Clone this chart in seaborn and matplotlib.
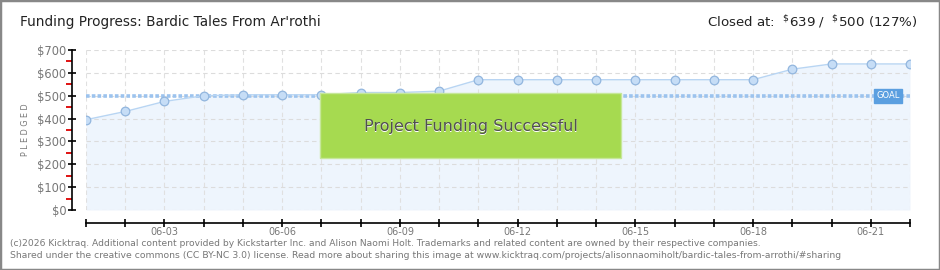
import matplotlib
matplotlib.use("Agg")
import matplotlib.pyplot as plt
import seaborn as sns
import pandas as pd
import numpy as np
from matplotlib.patches import Rectangle
from matplotlib.ticker import FixedLocator

dates = ["06-01", "06-02", "06-03", "06-04", "06-05", "06-06", "06-07", "06-08",
         "06-09", "06-10", "06-11", "06-12", "06-13", "06-14", "06-15", "06-16",
         "06-17", "06-18", "06-19", "06-20", "06-21", "06-22"]
pledged = [395, 431, 475, 500, 504, 504, 504, 514, 514, 520, 570, 570, 570, 570,
           570, 570, 570, 570, 616, 639, 639, 639]
goal = 500
y_ticks = [0, 100, 200, 300, 400, 500, 600, 700]
y_tick_labels = ["\\$0", "\\$100", "\\$200", "\\$300", "\\$400", "\\$500", "\\$600", "\\$700"]
title = "Funding Progress: Bardic Tales From Ar'rothi"
closed_text = r"Closed at:  $^{\$}$639 /  $^{\$}$500 (127%)"
banner = "Project Funding Successful"
footer1 = ("(c)2026 Kicktraq. Additional content provided by Kickstarter Inc. and Alison Naomi Holt. "
           "Trademarks and related content are owned by their respective companies.")
footer2 = ("Shared under the creative commons (CC BY-NC 3.0) license. Read more about sharing this image "
           "at www.kicktraq.com/projects/alisonnaomiholt/bardic-tales-from-arrothi/#sharing")

df = pd.DataFrame({"day": np.arange(len(dates)), "date": dates, "pledged": pledged})

sns.set_style("white")
plt.rcParams['font.family'] = ['DejaVu Sans']
plt.rcParams['mathtext.fontset'] = 'dejavusans'

W, H = 940, 270
fig = plt.figure(figsize=(W / 100, H / 100), dpi=100)
L, R, T, B = 86, 910, 50, 210
ax = fig.add_axes([L / W, 1 - B / H, (R - L) / W, (B - T) / H])
ax.set_facecolor("white")

# fill under line
ax.fill_between(df["day"], df["pledged"], 0, color="#eef5fd", zorder=1, linewidth=0)

# grid
for xv in df["day"]:
    ax.axvline(xv, color="#e0e0e0", lw=0.8, ls=(0, (4, 3)), zorder=1.5)
for yv in y_ticks:
    ax.axhline(yv, color="#dcdcdc", lw=0.8, ls=(0, (4, 3)), zorder=1.5)

# goal line
ax.axhline(goal, color="#9cc3ee", lw=2.6, ls=(0, (1.0, 0.6)), zorder=2)

sns.lineplot(data=df, x="day", y="pledged", ax=ax, color="#b8d5f3", lw=1.0,
             marker="o", markersize=6.2, markerfacecolor="#c6ddf6",
             markeredgecolor="#92b6de", markeredgewidth=0.9, zorder=3)

ax.set_xlim(0, len(dates) - 1)
ax.set_ylim(0, 700)

# banner
ax.add_patch(Rectangle(((320 - L) / (R - L), (B - 158) / (B - T)),
                       (621 - 320) / (R - L), (158 - 92.5) / (B - T),
                       transform=ax.transAxes, facecolor="#a6da50",
                       edgecolor="#c6e79a", lw=1.0, zorder=4))
bx = ((320 + 621) / 2 - L) / (R - L)
by = (B - 126) / (B - T)
ax.text(bx + 0.001, by - 0.008, banner, transform=ax.transAxes, ha="center", va="center",
        fontsize=11.5, color="white", zorder=5, family="DejaVu Sans Condensed")
ax.text(bx, by, banner, transform=ax.transAxes, ha="center", va="center",
        fontsize=11.5, color="#505050", zorder=6, family="DejaVu Sans Condensed")

# goal label
ax.text(20.44, goal, "GOAL", ha="center", va="center", fontsize=6, color="white",
        zorder=7, bbox=dict(boxstyle="square,pad=0.3", facecolor="#5b9fe0", edgecolor="#5b9fe0"))

# spines
for s in ["top", "right"]:
    ax.spines[s].set_visible(False)
ax.spines["left"].set_position(("outward", 10))
ax.spines["bottom"].set_position(("outward", 9))
for s in ["left", "bottom"]:
    ax.spines[s].set_color("black")
    ax.spines[s].set_linewidth(1.2)

ax.set_yticks(y_ticks)
ax.set_yticklabels(y_tick_labels)
ax.yaxis.set_minor_locator(FixedLocator([50, 150, 250, 350, 450, 550, 650]))
ax.tick_params(axis="y", which="major", direction="inout", length=6, width=1.2,
               colors="black", labelcolor="#777777", labelsize=8.3, pad=1, left=True)
ax.tick_params(axis="y", which="minor", direction="out", length=4, width=1.3,
               colors="#dd0000", left=True)

ax.set_xticks(df["day"])
ax.set_xticklabels([d if (i - 2) % 3 == 0 else "" for i, d in enumerate(dates)])
ax.tick_params(axis="x", which="major", direction="inout", length=6, width=1.2,
               colors="black", labelcolor="#777777", labelsize=7, pad=0.5, bottom=True)
ax.set_xlabel("")
ax.set_ylabel("P L E D G E D", fontsize=5.8, color="#777777")
ax.yaxis.set_label_coords((30 - L) / (R - L), 0.5)

# titles
fig.text(20 / W, 1 - 22 / H, title, fontsize=9.8, color="#222222", va="center", ha="left",
         family="DejaVu Sans Condensed")
fig.text(918 / W, 1 - 22 / H, closed_text, fontsize=9.6, color="#222222", va="center", ha="right",
         family="DejaVu Sans Condensed")

# footer
fig.text(10 / W, 1 - 243 / H, footer1, fontsize=6.6, color="#777777", va="center", ha="left")
fig.text(10 / W, 1 - 256 / H, footer2, fontsize=6.7, color="#777777", va="center", ha="left")

# border
fig.patches.append(Rectangle((0, 0), 1, 1, transform=fig.transFigure, fill=False,
                             edgecolor="#888888", lw=2.5))

fig.savefig("out.png", dpi=100)
